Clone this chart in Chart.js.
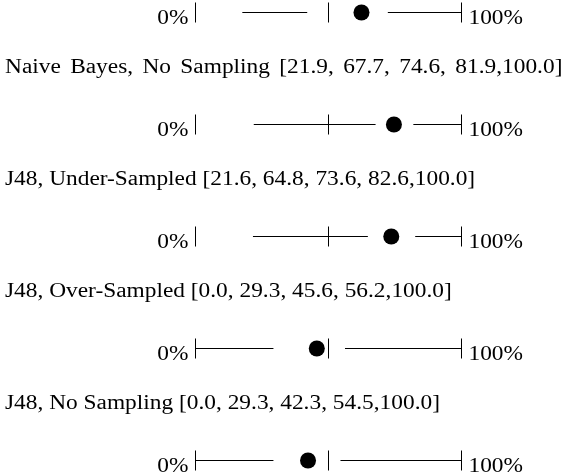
<!DOCTYPE html>
<html>
<head>
<meta charset="utf-8">
<script src="https://cdn.jsdelivr.net/npm/chart.js@4/dist/chart.umd.min.js"></script>
<style>
  html, body { margin: 0; padding: 0; background: #fff; }
  #wrap { width: 567px; height: 476px; position: relative; }
</style>
</head>
<body>
<div id="wrap"><canvas id="quartiles"></canvas></div>
<script>
// Quartile summaries, one row per learner / sampling setup.
// Each row: [low end, lower quartile, median, upper quartile, high end] in percent.
const rowNames   = ['', 'Naive Bayes, No Sampling', 'J48, Under-Sampled', 'J48, Over-Sampled', 'J48, No Sampling'];
const lowEnd     = [17.6, 21.9, 21.6, 0.0, 0.0];
const lowerQuart = [42.0, 67.7, 64.8, 29.3, 29.3];
const medians    = [62.4, 74.6, 73.6, 45.6, 42.3];
const upperQuart = [72.3, 81.9, 82.6, 56.2, 54.5];
const highEnd    = [100.0, 100.0, 100.0, 100.0, 100.0];

// Range markers drawn on every row, and the labels at both ends of the range.
const markerValues = [0, 50, 100];
const rangeLabels  = ['0%', '100%'];

const FONT_FAMILY = '"Liberation Serif", "Times New Roman", serif';
const FONT_SIZE = 20.5;
const TEXT_STRETCH = 1.14;
// The first titled row is set justified, so its word gaps are wider.
const TITLE_WORD_SPACING = [0, 3.5, 0, 0, 0];

const fmt = v => v.toFixed(1);
const rowTitle = i =>
  `${rowNames[i]} [${fmt(lowEnd[i])}, ${fmt(lowerQuart[i])}, ${fmt(medians[i])}, ${fmt(upperQuart[i])},${fmt(highEnd[i])}]`;

const datasets = [];

// Whiskers: low end -> lower quartile, upper quartile -> high end.
rowNames.forEach((_, i) => {
  [[lowEnd[i], lowerQuart[i]], [upperQuart[i], highEnd[i]]].forEach(([a, b]) => {
    datasets.push({
      type: 'line',
      data: [{ x: a, y: i }, { x: b, y: i }],
      borderColor: '#000',
      borderWidth: 1,
      pointRadius: 0,
      clip: false
    });
  });
});

// Vertical bars at 0%, 50% and 100%.
datasets.push({
  type: 'scatter',
  data: rowNames.flatMap((_, i) => markerValues.map(v => ({ x: v, y: i }))),
  pointStyle: 'line',
  rotation: 90,
  radius: 10,
  borderColor: '#000',
  borderWidth: 1,
  clip: false
});

// Medians.
datasets.push({
  type: 'scatter',
  data: rowNames.map((_, i) => ({ x: medians[i], y: i })),
  pointStyle: 'circle',
  radius: 8,
  backgroundColor: '#000',
  borderColor: '#000',
  borderWidth: 0,
  clip: false
});

// Text: row titles above each row and the range labels beside it.
const textPlugin = {
  id: 'rowText',
  afterDraw(chart) {
    const { ctx, scales: { x, y } } = chart;
    ctx.save();
    ctx.fillStyle = '#000';
    ctx.font = `${FONT_SIZE}px ${FONT_FAMILY}`;
    ctx.textBaseline = 'alphabetic';
    const put = (text, px, py, align, gap = 0) => {
      ctx.save();
      ctx.translate(px, py);
      ctx.scale(TEXT_STRETCH, 1);
      ctx.textAlign = align;
      if ('wordSpacing' in ctx) ctx.wordSpacing = `${gap / TEXT_STRETCH}px`;
      ctx.fillText(text, 0, 0);
      ctx.restore();
    };
    rowNames.forEach((name, i) => {
      const py = y.getPixelForValue(i);
      if (name) put(rowTitle(i), 5, py - 52, 'left', TITLE_WORD_SPACING[i]);
      put(rangeLabels[0], x.getPixelForValue(0) - 7, py + 11, 'right');
      put(rangeLabels[1], x.getPixelForValue(100) + 7, py + 11, 'left');
    });
    ctx.restore();
  }
};

new Chart(document.getElementById('quartiles'), {
  data: { datasets },
  options: {
    responsive: true,
    maintainAspectRatio: false,
    animation: false,
    events: [],
    // half-pixel insets keep the 1px strokes crisp
    layout: { padding: { left: 195.5, right: 105.5, top: 12.5, bottom: 15.5 } },
    scales: {
      x: { type: 'linear', min: 0, max: 100, display: false },
      y: { type: 'linear', min: 0, max: 4, reverse: true, display: false }
    },
    plugins: { legend: { display: false }, tooltip: { enabled: false } }
  },
  plugins: [textPlugin]
});
</script>
</body>
</html>
